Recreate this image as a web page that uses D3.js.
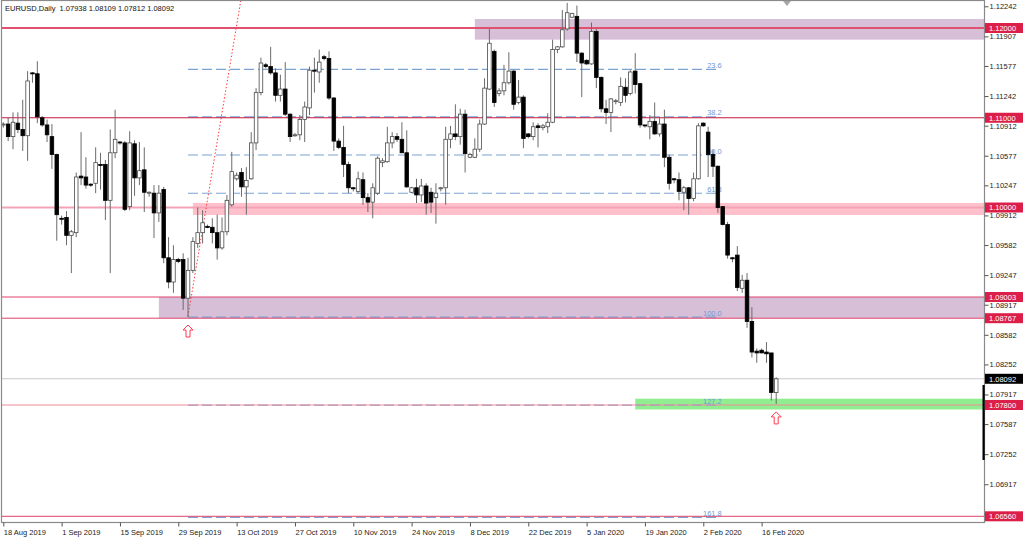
<!DOCTYPE html>
<html><head><meta charset="utf-8">
<script src="https://cdn.jsdelivr.net/npm/d3@7"></script>
<style>html,body{margin:0;padding:0;background:#fff;overflow:hidden}</style>
</head><body>
<svg id="chart" width="1024" height="540"></svg>
<script>
// ---------------- DATA ----------------
const symbolTitle = "EURUSD,Daily  1.07938 1.08109 1.07812 1.08092";

const opens = [
1.1092,1.1093,1.1079,1.1094,1.1087,1.1080,1.1150,1.1149,1.1100,1.1092,
1.1079,1.1059,1.0988,1.0989,1.0969,1.0972,1.1035,1.1034,1.1026,1.1027,
1.1048,1.1048,1.1008,1.1061,1.1073,1.1072,1.1001,1.1071,1.1033,1.1042,
1.1016,1.1016,1.0994,1.1020,1.0944,1.0917,1.0942,1.0942,1.0899,1.0930,
1.0960,1.0972,1.0979,1.0978,1.0972,1.0955,1.0973,1.1003,1.1032,1.1039,
1.1023,1.1032,1.1072,1.1128,1.1159,1.1157,1.1150,1.1125,1.1132,1.1104,
1.1080,1.1081,1.1098,1.1111,1.1153,1.1151,1.1168,1.1166,1.1122,1.1074,
1.1067,1.1048,1.1022,1.1018,1.1031,1.1011,1.1006,1.1016,1.1050,1.1051,
1.1072,1.1079,1.1076,1.1061,1.1017,1.1022,1.1014,1.1024,1.1017,1.1011,
1.1021,1.1022,1.1076,1.1082,1.1079,1.1104,1.1056,1.1056,1.1065,1.1093,
1.1132,1.1174,1.1127,1.1130,1.1139,1.1152,1.1117,1.1123,1.1082,1.1079,
1.1091,1.1089,1.1090,1.1095,1.1176,1.1179,1.1199,1.1212,1.1213,1.1172,
1.1164,1.1160,1.1196,1.1145,1.1110,1.1106,1.1118,1.1117,1.1134,1.1127,
1.1152,1.1138,1.1092,1.1090,1.1096,1.1082,1.1093,1.1056,1.1032,1.1031,
1.1017,1.1022,1.1010,1.1032,1.1094,1.1084,1.1059,1.1046,1.1001,1.0981,
1.0944,1.0947,1.0910,1.0919,1.0873,1.0840,1.0841,1.0839,1.0838,1.07938];

const highs = [
1.1095,1.1100,1.1106,1.1106,1.1120,1.1152,1.1151,1.1163,1.1102,1.1098,
1.1093,1.1060,1.0991,1.0996,1.0975,1.1039,1.1084,1.1056,1.1027,1.1067,
1.1061,1.1053,1.1087,1.1109,1.1074,1.1074,1.1085,1.1075,1.1073,1.1067,
1.1018,1.1025,1.1025,1.1023,1.0967,1.0958,1.0944,1.0949,1.0944,1.0967,
1.1000,1.0997,1.0981,1.0988,1.0992,1.0989,1.1014,1.1062,1.1039,1.1044,
1.1045,1.1084,1.1133,1.1167,1.1161,1.1179,1.1155,1.1148,1.1162,1.1105,
1.1083,1.1103,1.1118,1.1157,1.1167,1.1176,1.1170,1.1174,1.1123,1.1077,
1.1091,1.1051,1.1023,1.1040,1.1039,1.1016,1.1027,1.1057,1.1055,1.1090,
1.1084,1.1083,1.1095,1.1086,1.1023,1.1032,1.1032,1.1027,1.1022,1.1027,
1.1023,1.1090,1.1091,1.1115,1.1110,1.1109,1.1061,1.1077,1.1098,1.1144,
1.1199,1.1176,1.1133,1.1159,1.1173,1.1153,1.1142,1.1125,1.1083,1.1095,
1.1094,1.1093,1.1105,1.1187,1.1180,1.1220,1.1228,1.1217,1.1225,1.1173,
1.1165,1.1206,1.1199,1.1146,1.1120,1.1122,1.1121,1.1145,1.1144,1.1153,
1.1172,1.1139,1.1092,1.1103,1.1117,1.1100,1.1109,1.1059,1.1033,1.1039,
1.1024,1.1023,1.1039,1.1094,1.1095,1.1090,1.1064,1.1047,1.1001,1.0984,
1.0945,1.0957,1.0925,1.0927,1.0889,1.0843,1.0843,1.0850,1.0838,1.08109];

const lows = [
1.1089,1.1074,1.1065,1.1083,1.1063,1.1052,1.1139,1.1094,1.1090,1.1073,
1.1043,1.0963,1.0981,1.0958,1.0927,1.0967,1.1025,1.1021,1.1023,1.1016,
1.1020,1.0986,1.0927,1.1055,1.1070,1.0996,1.0997,1.1013,1.1025,1.0995,
1.1012,1.0966,1.0984,1.0938,1.0910,1.0905,1.0938,1.0886,1.0878,1.0927,
1.0955,1.0960,1.0977,1.0960,1.0942,1.0953,1.0969,1.1001,1.1030,1.1012,
1.0992,1.1031,1.1064,1.1125,1.1155,1.1148,1.1118,1.1118,1.1102,1.1073,
1.1079,1.1075,1.1073,1.1103,1.1128,1.1139,1.1164,1.1120,1.1063,1.1065,
1.1034,1.1016,1.1018,1.1016,1.1003,1.0995,1.0988,1.1014,1.1045,1.1050,
1.1066,1.1073,1.1061,1.1022,1.1016,1.1005,1.1006,1.0992,1.0994,1.0982,
1.1018,1.1003,1.1066,1.1075,1.1070,1.1039,1.1055,1.1055,1.1062,1.1092,
1.1131,1.1112,1.1124,1.1125,1.1137,1.1109,1.1115,1.1066,1.1077,1.1075,
1.1067,1.1086,1.1083,1.1094,1.1172,1.1178,1.1197,1.1211,1.1162,1.1123,
1.1159,1.1159,1.1133,1.1106,1.1093,1.1084,1.1115,1.1113,1.1117,1.1125,
1.1127,1.1089,1.1089,1.1076,1.1081,1.1079,1.1045,1.1020,1.1027,1.1008,
1.0997,1.0992,1.1007,1.1031,1.1090,1.1034,1.1034,1.0994,1.0980,1.0943,
1.0939,1.0907,1.0905,1.0866,1.0833,1.0827,1.0838,1.0827,1.0785,1.07812];

const closes = [
1.1093,1.1079,1.1095,1.1087,1.1080,1.1141,1.1149,1.1101,1.1092,1.1081,
1.1059,1.0992,1.0987,1.0969,1.0973,1.1034,1.1033,1.1025,1.1025,1.1050,
1.1047,1.1008,1.1061,1.1076,1.1072,1.0998,1.1072,1.1033,1.1041,1.1017,
1.1017,1.0994,1.1016,1.0944,1.0917,1.0942,1.0940,1.0899,1.0930,1.0962,
1.0972,1.0983,1.0978,1.0972,1.0955,1.0973,1.1008,1.1040,1.1036,1.1023,
1.1030,1.1072,1.1128,1.1161,1.1157,1.1150,1.1125,1.1132,1.1104,1.1079,
1.1081,1.1098,1.1112,1.1153,1.1152,1.1162,1.1166,1.1122,1.1074,1.1067,
1.1048,1.1022,1.1021,1.1032,1.1011,1.1006,1.1022,1.1055,1.1052,1.1072,
1.1079,1.1076,1.1061,1.1023,1.1022,1.1014,1.1024,1.1005,1.1006,1.1016,
1.1022,1.1076,1.1082,1.1079,1.1104,1.1060,1.1059,1.1065,1.1093,1.1133,
1.1183,1.1117,1.1130,1.1139,1.1152,1.1115,1.1123,1.1077,1.1079,1.1090,
1.1089,1.1091,1.1095,1.1176,1.1179,1.1198,1.1217,1.1216,1.1172,1.1161,
1.1160,1.1196,1.1145,1.1110,1.1106,1.1121,1.1119,1.1135,1.1125,1.1151,
1.1137,1.1092,1.1091,1.1096,1.1082,1.1093,1.1056,1.1027,1.1031,1.1018,
1.1022,1.1010,1.1032,1.1091,1.1091,1.1059,1.1046,1.1000,1.0981,1.0947,
1.0943,1.0911,1.0919,1.0873,1.0839,1.0838,1.0838,1.0837,1.0794,1.08092];

// x-axis tick labels and the bar they sit on
const xTickBars = [0,12,24,36,48,60,72,84,96,108,120,132,144,156];
const xTickLabels = ["18 Aug 2019","1 Sep 2019","15 Sep 2019","29 Sep 2019","13 Oct 2019","27 Oct 2019",
  "10 Nov 2019","24 Nov 2019","8 Dec 2019","22 Dec 2019","5 Jan 2020","19 Jan 2020","2 Feb 2020","16 Feb 2020"];

// y-axis tick values
const yTickValues = [1.12242,1.11907,1.11577,1.11242,1.10912,1.10577,1.10247,1.09912,1.09582,
  1.09247,1.08917,1.08582,1.08252,1.07917,1.07587,1.07252,1.06917,1.06587];

// horizontal price levels
const levelPrices = [1.12000,1.11000,1.10000,1.09003,1.08767,1.07800,1.06560];
const currentPrice = 1.08092;

// zones (rectangles) : top price, bottom price, first bar
const zoneTops = [1.1210, 1.10051, 1.09003, 1.0787];
const zoneBottoms = [1.1187, 1.09917, 1.08767, 1.0775];
const zoneStartBars = [97, 39, 32, 130];

// fibonacci retracement
const fibHigh = 1.1239, fibLow = 1.0878;
const fibStartBar = 38, fibEndBar = 147.4;
const fibLevels = [0.236, 0.382, 0.5, 0.618, 1.0, 1.272, 1.618];
const fibLabels = ["23.6","38.2","50.0","61.8","100.0","127.2","161.8"];

// trend line (ray) anchor points
const trendBars = [38, 46.8];
const trendPrices = [1.0879, 1.1164];

// arrow marks under bars
const arrowBars = [38, 159];

// ---------------- STYLES / LAYOUT ----------------
const plot = {l:2, r:984, t:1, b:522};
const FONT = '"Liberation Sans", Arial, sans-serif';
const levelStyles = [
  {c:'#e2506f', w:2}, {c:'#c8173f', w:1.2}, {c:'#f4a3b6', w:2},
  {c:'#e0436a', w:1}, {c:'#e0436a', w:1}, {c:'#f08a9b', w:1}, {c:'#e0436a', w:1}
];
const zoneColors = ['#d8bfd8', '#ffc0cb', '#d8bfd8', '#90ee90'];

const svg = d3.select('#chart');
svg.append('rect').attr('width',1024).attr('height',540).attr('fill','#fff');

const x = d3.scaleLinear().domain([0, opens.length-1]).range([3.3, 776.2]);
const y = d3.scaleLinear().domain([1.0656, 1.12]).range([516.3, 28]);

svg.append('defs').append('clipPath').attr('id','clip')
  .append('rect').attr('x',plot.l).attr('y',plot.t).attr('width',plot.r-plot.l).attr('height',plot.b-plot.t);
const g = svg.append('g').attr('clip-path','url(#clip)');

// zones
g.selectAll('rect.zone').data(zoneTops).join('rect').attr('class','zone')
  .attr('x',(d,i)=>x(zoneStartBars[i]))
  .attr('width',(d,i)=>plot.r - x(zoneStartBars[i]))
  .attr('y',(d,i)=>y(zoneTops[i]))
  .attr('height',(d,i)=>y(zoneBottoms[i]) - y(zoneTops[i]))
  .attr('fill',(d,i)=>zoneColors[i]);

// current price line
g.append('line').attr('x1',plot.l).attr('x2',plot.r)
  .attr('y1',y(currentPrice)).attr('y2',y(currentPrice))
  .attr('stroke','#c8c8c8').attr('stroke-width',1);

// fib lines
const fibPrice = lv => fibHigh - lv*(fibHigh-fibLow);
g.selectAll('line.fib').data(fibLevels).join('line').attr('class','fib')
  .attr('x1',x(fibStartBar)).attr('x2',x(fibEndBar))
  .attr('y1',d=>y(fibPrice(d))).attr('y2',d=>y(fibPrice(d)))
  .attr('stroke','#7ba4d3').attr('stroke-width',1.2).attr('stroke-dasharray','10,4');

// level lines
g.selectAll('line.lvl').data(levelPrices).join('line').attr('class','lvl')
  .attr('x1',plot.l).attr('x2',plot.r)
  .attr('y1',d=>y(d)).attr('y2',d=>y(d))
  .attr('stroke',(d,i)=>levelStyles[i].c).attr('stroke-width',(d,i)=>levelStyles[i].w);

// fib labels
g.selectAll('text.fib').data(fibLevels).join('text').attr('class','fib')
  .attr('x',x(fibEndBar)+2).attr('y',d=>y(fibPrice(d))-1.5)
  .attr('text-anchor','end').attr('font-family',FONT).attr('font-size',7.5)
  .attr('fill','#6d9ad4').text((d,i)=>fibLabels[i]);

// trend ray (extended to top)
{
  const x0 = x(trendBars[0]), y0 = y(trendPrices[0]);
  const x1 = x(trendBars[1]), y1 = y(trendPrices[1]);
  const t = (y0 - plot.t + 2) / (y0 - y1);
  g.append('line').attr('x1',x0).attr('y1',y0)
    .attr('x2',x0 + (x1-x0)*t).attr('y2',y0 + (y1-y0)*t)
    .attr('stroke','#ff3b3b').attr('stroke-width',1).attr('stroke-dasharray','1.5,2');
}

// candles
const bars = d3.range(opens.length).map(i=>({i, o:opens[i], h:highs[i], l:lows[i], c:closes[i]}));
g.selectAll('line.wick').data(bars).join('line').attr('class','wick')
  .attr('x1',d=>x(d.i)).attr('x2',d=>x(d.i))
  .attr('y1',d=>y(d.h)).attr('y2',d=>y(d.l))
  .attr('stroke','#6b6b6b').attr('stroke-width',1);
g.selectAll('rect.body').data(bars).join('rect').attr('class','body')
  .attr('x',d=>x(d.i)-1.8).attr('width',3.6)
  .attr('y',d=>y(Math.max(d.o,d.c)))
  .attr('height',d=>Math.max(1, Math.abs(y(d.o)-y(d.c))))
  .attr('fill',d=>d.c>=d.o ? '#fff' : '#000')
  .attr('stroke',d=>d.c>=d.o ? '#4a4a4a' : '#000').attr('stroke-width',0.8);

// arrows
g.selectAll('path.arrow').data(arrowBars).join('path').attr('class','arrow')
  .attr('transform',d=>`translate(${x(d)},${y(lows[d])+8})`)
  .attr('d','M0,0 L5,5 L2,5 L2,12 L-2,12 L-2,5 L-5,5 Z')
  .attr('fill','#fff').attr('stroke','#ff3b4e').attr('stroke-width',1);

// frame
svg.append('rect').attr('x',plot.l-0.5).attr('y',plot.t-0.5)
  .attr('width',plot.r-plot.l+1).attr('height',plot.b-plot.t+1)
  .attr('fill','none').attr('stroke','#8a8a8a').attr('stroke-width',1.2);

// y axis
const yAxis = svg.append('g').attr('transform',`translate(${plot.r+0.5},0)`)
  .call(d3.axisRight(y).tickValues(yTickValues).tickFormat(d3.format('.5f')).tickSize(4).tickPadding(1));
yAxis.select('.domain').remove();
yAxis.selectAll('line').attr('stroke','#555');
yAxis.selectAll('text').attr('font-family',FONT).attr('font-size',7.5).attr('fill','#222');

// x axis
const xAxis = svg.append('g').attr('transform',`translate(0,${plot.b+0.5})`)
  .call(d3.axisBottom(x).tickValues(xTickBars).tickFormat((d,i)=>xTickLabels[i]).tickSize(4).tickPadding(3));
xAxis.select('.domain').remove();
xAxis.selectAll('line').attr('stroke','#555');
xAxis.selectAll('text').attr('text-anchor','start').attr('x',0)
  .attr('font-family',FONT).attr('font-size',7.5).attr('fill','#222');

// price label boxes
const boxData = levelPrices.map(p=>({p, bg:'#dc1f48'})).concat([{p:currentPrice, bg:'#000'}]);
const boxes = svg.selectAll('g.pbox').data(boxData).join('g').attr('class','pbox')
  .attr('transform',d=>`translate(${plot.r+1},${y(d.p)})`);
boxes.append('rect').attr('x',0).attr('y',-5).attr('width',38).attr('height',10).attr('fill',d=>d.bg);
boxes.append('text').attr('x',4).attr('y',2.8).attr('font-family',FONT).attr('font-size',7.5)
  .attr('fill','#fff').text(d=>d.p.toFixed(5));

// black marker on axis
svg.append('rect').attr('x',plot.r-1.5).attr('y',385).attr('width',2.2).attr('height',75).attr('fill','#000');

// chart shift triangle
svg.append('path').attr('d','M783,1 L791,1 L787,6 Z').attr('fill','#a6a6a6');

// title
svg.append('text').attr('x',5).attr('y',11).attr('font-family',FONT).attr('font-size',7.5)
  .attr('fill','#111').attr('xml:space','preserve').style('white-space','pre').text(symbolTitle);
</script>
</body></html>
